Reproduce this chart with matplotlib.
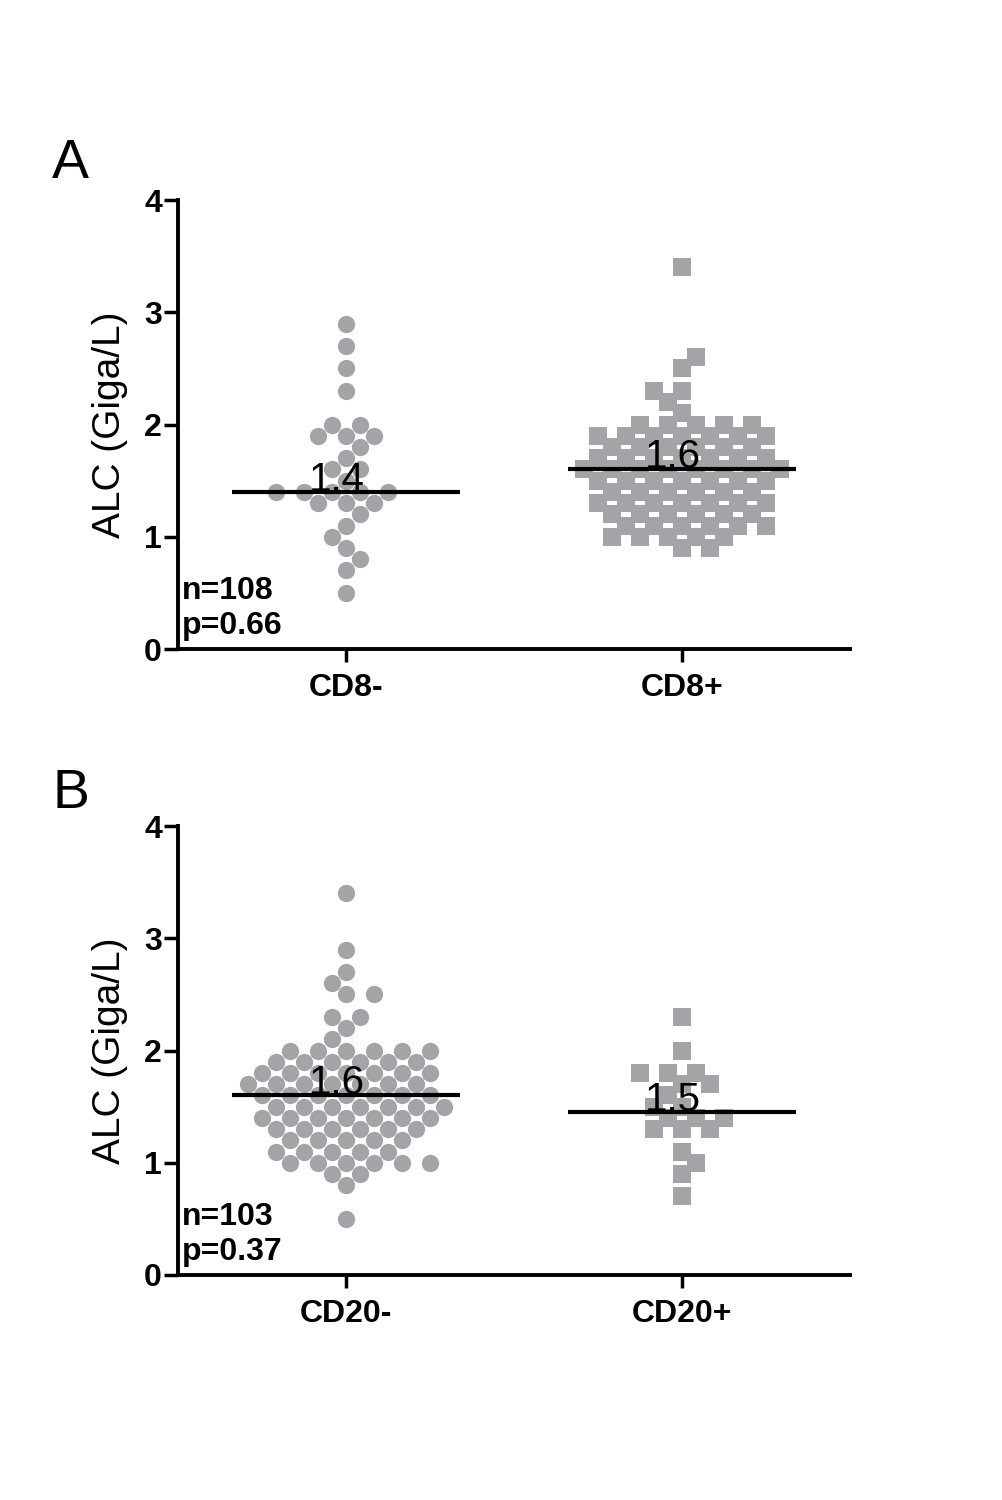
import numpy as np
import matplotlib
matplotlib.use("Agg")
import matplotlib.pyplot as plt

plt.rcParams['font.family'] = ['Liberation Sans', 'DejaVu Sans']

# values (Giga/L)
cd8_neg = [2.9, 2.7, 2.5, 2.3, 2.0, 2.0, 1.9, 1.9, 1.9, 1.8, 1.7, 1.6, 1.6, 1.5,
           1.4, 1.4, 1.4, 1.4, 1.4, 1.3, 1.3, 1.3, 1.2, 1.1, 1.0, 0.9, 0.8, 0.7, 0.5]
cd8_pos = [3.4, 2.6, 2.5, 2.3, 2.3, 2.2, 2.1,
           2.0, 2.0, 2.0, 2.0, 2.0,
           1.9, 1.9, 1.9, 1.9, 1.9, 1.9, 1.9,
           1.8, 1.8, 1.8, 1.8, 1.8, 1.8,
           1.7, 1.7, 1.7, 1.7, 1.7, 1.7, 1.7,
           1.6, 1.6, 1.6, 1.6, 1.6, 1.6, 1.6, 1.6,
           1.5, 1.5, 1.5, 1.5, 1.5, 1.5, 1.5,
           1.4, 1.4, 1.4, 1.4, 1.4, 1.4,
           1.3, 1.3, 1.3, 1.3, 1.3, 1.3, 1.3,
           1.2, 1.2, 1.2, 1.2, 1.2, 1.2,
           1.1, 1.1, 1.1, 1.1, 1.1, 1.1,
           1.0, 1.0, 1.0, 1.0, 1.0,
           0.9, 0.9]
cd20_neg = [3.4, 2.9, 2.7, 2.6, 2.5, 2.5, 2.3, 2.3, 2.2, 2.1,
            2.0, 2.0, 2.0, 2.0, 2.0, 2.0,
            1.9, 1.9, 1.9, 1.9, 1.9, 1.9,
            1.8, 1.8, 1.8, 1.8, 1.8, 1.8, 1.8,
            1.7, 1.7, 1.7, 1.7, 1.7, 1.7, 1.7,
            1.6, 1.6, 1.6, 1.6, 1.6, 1.6, 1.6,
            1.5, 1.5, 1.5, 1.5, 1.5, 1.5, 1.5,
            1.4, 1.4, 1.4, 1.4, 1.4, 1.4, 1.4,
            1.3, 1.3, 1.3, 1.3, 1.3, 1.3,
            1.2, 1.2, 1.2, 1.2, 1.2,
            1.1, 1.1, 1.1, 1.1, 1.1,
            1.0, 1.0, 1.0, 1.0, 1.0, 1.0,
            0.9, 0.9, 0.8, 0.5]
cd20_pos = [2.3, 2.0, 1.8, 1.8, 1.8, 1.7, 1.7, 1.6, 1.5, 1.5,
            1.4, 1.4, 1.4, 1.3, 1.3, 1.3, 1.1, 1.0, 0.9, 0.7]

panels = [
    ("A", ["CD8-", "CD8+"], [cd8_neg, cd8_pos], ["1.4", "1.6"], "n=108", "p=0.66"),
    ("B", ["CD20-", "CD20+"], [cd20_neg, cd20_pos], ["1.6", "1.5"], "n=103", "p=0.37"),
]

GREY = '#a3a3a8'
PX_X = 336.0    # pixels per x unit
PX_Y = 112.25   # pixels per y unit


def swarm(values, step=14.0, dmin=17.5):
    # simple beeswarm on a half-column grid, in pixel space
    values = np.asarray(values, dtype=float)
    order = np.argsort(values, kind='stable')
    placed = []
    offs = np.zeros(len(values))
    for i in order:
        y = values[i] * PX_Y
        # lean toward the emptier side so the cloud stays balanced
        bal = sum(px for px, py in placed if abs(py - y) < 3 * PX_Y * 0.1)
        sign = -1 if bal > 0 else 1
        found = None
        for k in range(0, 60):
            cands = [0] if k == 0 else [sign * k, -sign * k]
            for c in cands:
                x = c * step
                if all((x - px) ** 2 + (y - py) ** 2 >= dmin ** 2 for px, py in placed):
                    found = x
                    break
            if found is not None:
                break
        placed.append((found, y))
        offs[i] = found / PX_X
    return offs


fig = plt.figure(figsize=(10.02, 15.0), dpi=100)
axes_rects = [[0.1776, 0.5673, 0.6707, 0.2993], [0.1776, 0.15, 0.6707, 0.2993]]
letter_y = [0.8813, 0.4613]

for (letter, cats, groups, mlabels, ntxt, ptxt), rect, ly in zip(panels, axes_rects, letter_y):
    ax = fig.add_axes(rect)
    markers = ['o', 's']
    sizes = [155, 175]
    for j, vals in enumerate(groups):
        xc = j + 1
        xs = xc + swarm(vals)
        ax.scatter(xs, vals, s=sizes[j], marker=markers[j], color=GREY,
                   linewidths=0, zorder=2)
        med = np.median(vals)
        ax.plot([xc - 0.34, xc + 0.34], [med, med], color='black', lw=3,
                solid_capstyle='butt', zorder=3)
        ax.text(xc - 0.027, med + 0.01, mlabels[j], fontsize=29, ha='center',
                va='baseline', zorder=4)

    ax.set_xlim(0.5, 2.5)
    ax.set_ylim(0, 4)
    ax.set_xticks([1, 2])
    ax.set_xticklabels(cats, fontsize=23, fontweight='bold')
    ax.set_yticks([0, 1, 2, 3, 4])
    ax.set_yticklabels(['0', '1', '2', '3', '4'], fontsize=23, fontweight='bold')
    ax.tick_params(axis='y', length=10, width=2.5, pad=1.5)
    ax.tick_params(axis='x', length=9, width=2.5, pad=8)
    for s in ['top', 'right']:
        ax.spines[s].set_visible(False)
    for s in ['left', 'bottom']:
        ax.spines[s].set_linewidth(2.8)
    ax.set_ylabel('ALC (Giga/L)', fontsize=28)
    ax.yaxis.set_label_coords(-0.075, 0.5)

    ax.text(0.512, 0.445, ntxt, fontsize=23, fontweight='bold', va='baseline')
    ax.text(0.512, 0.134, ptxt, fontsize=23, fontweight='bold', va='baseline')

    fig.text(0.052, ly, letter, fontsize=40, va='baseline', ha='left')

fig.savefig('out.png', dpi=100)
